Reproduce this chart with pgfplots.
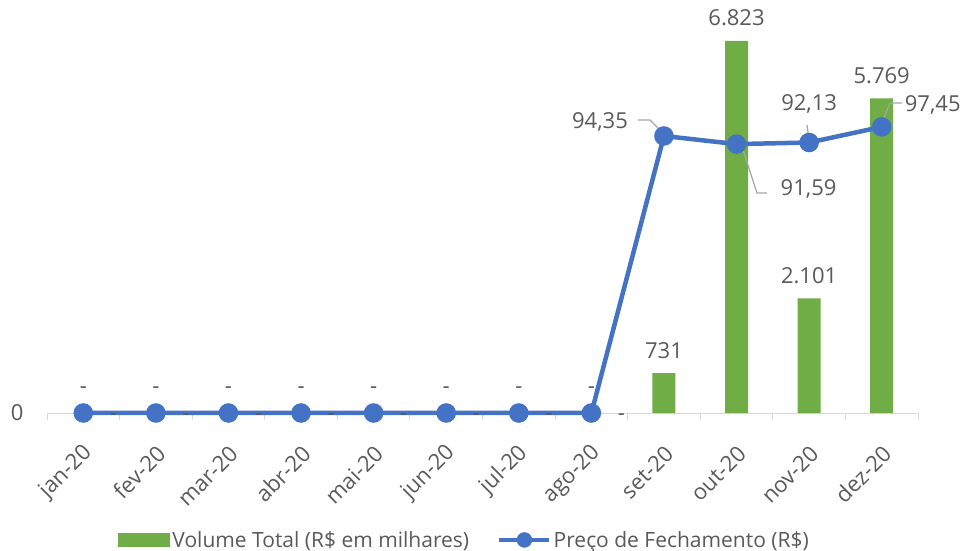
\documentclass[border=0pt]{standalone}
\usepackage{pgfplots}
\pgfplotsset{compat=1.18}
\usepackage{fontspec}
\setmainfont{Open Sans}

\definecolor{barc}{HTML}{70AD47}
\definecolor{linec}{HTML}{4472C4}
\definecolor{axc}{HTML}{D9D9D9}
\definecolor{txtc}{HTML}{595959}
\definecolor{leadc}{HTML}{A6A6A6}

\newcommand{\cf}{\fontsize{22bp}{26bp}\selectfont}
\newcommand{\lf}{\fontsize{21bp}{25bp}\selectfont}

\pgfplotsset{
  common/.style={
    scale only axis,
    width=871bp, height=393bp,
    at={(47bp,138bp)}, anchor=south west,
    xmin=-0.5, xmax=11.5,
    ymin=0,
    clip=false,
  },
}

\begin{document}
\begin{tikzpicture}
\useasboundingbox (0,0) rectangle (970bp,551bp);

% volume bars (left axis)
\begin{axis}[
  common,
  ymax=7208,
  axis x line*=bottom,
  axis y line*=left,
  y axis line style={draw=none},
  x axis line style={draw=axc, line width=1bp},
  xtick={0,...,11},
  xticklabels={jan-20,fev-20,mar-20,abr-20,mai-20,jun-20,jul-20,ago-20,set-20,out-20,nov-20,dez-20},
  minor xtick={-0.5,0.5,...,11.5},
  major tick length=0pt,
  minor tick length=7bp,
  xtick align=outside,
  minor tick style={draw=axc, line width=1bp},
  ytick={0},
  /pgf/number format/assume math mode=true,
  tick label style={font=\cf, text=txtc},
  xticklabel style={rotate=45, anchor=east, xshift=-19bp, yshift=-30bp},
  yticklabel style={xshift=-20bp},
  legend style={at={(0.4795,-0.323)}, anchor=center, draw=none, fill=none,
    font=\lf, text=txtc, legend columns=2,
    /tikz/every even column/.append style={column sep=26bp}},
  legend cell align=left,
]
\addplot[
  ybar, bar width=23bp, fill=barc, draw=none,
  point meta=explicit symbolic,
  nodes near coords,
  nodes near coords style={font=\cf, text=txtc, anchor=center, yshift=23bp},
  legend image code/.code={\fill[barc] (0bp,-7bp) rectangle (52bp,7bp);},
] table [meta=label] {
x y label
0 0 -
1 0 -
2 0 -
3 0 -
4 0 -
5 0 -
6 0 -
7 0 -
8 731 731
9 6823 6.823
10 2101 2.101
11 5769 5.769
};
\addlegendentry{Volume Total (R\$ em milhares)}
\addlegendimage{legend image code/.code={
  \draw[linec, line width=4.5bp] (0bp,0bp) -- (50bp,0bp);
  \fill[linec] (25bp,0bp) circle (7.5bp);}}
\addlegendentry{Preço de Fechamento (R\$)}
\end{axis}

% closing price line (right axis, hidden)
\begin{axis}[
  common,
  ymax=133.86,
  hide axis,
]
\addplot[
  linec, line width=4.5bp, mark=*, mark size=7.5bp,
  mark options={draw=none, fill=linec},
  point meta=explicit symbolic,
  visualization depends on={value \thisrow{dx} \as \myDx},
  visualization depends on={value \thisrow{dy} \as \myDy},
  nodes near coords,
  nodes near coords style={font=\cf, text=txtc, anchor=center,
    xshift=\myDx bp, yshift=\myDy bp},
] table [meta=label] {
x y label dx dy
0 0 - 30 -4
1 0 - 30 -4
2 0 - 30 -4
3 0 - 30 -4
4 0 - 30 -4
5 0 - 30 -4
6 0 - 30 -4
7 0 - 30 -4
8 94.35 {94,35} -64 14
9 91.59 {91,59} 72 -45
10 92.13 {92,13} 0 39
11 97.45 {97,45} 51 22
};
% leader lines of the data labels
\draw[leadc, line width=1.2bp] (axis cs:7.643,99.8) -- (axis cs:7.808,99.8) -- (axis cs:7.973,95.7);
\draw[leadc, line width=1.2bp] (axis cs:9.089,89.6) -- (axis cs:9.282,74.9) -- (axis cs:9.420,74.9);
\draw[leadc, line width=1.2bp] (axis cs:9.971,98.1) -- (axis cs:9.999,93.0);
\draw[leadc, line width=1.2bp] (axis cs:11.018,99.8) -- (axis cs:11.115,105.6) -- (axis cs:11.280,105.6);
\end{axis}
\end{tikzpicture}
\end{document}
